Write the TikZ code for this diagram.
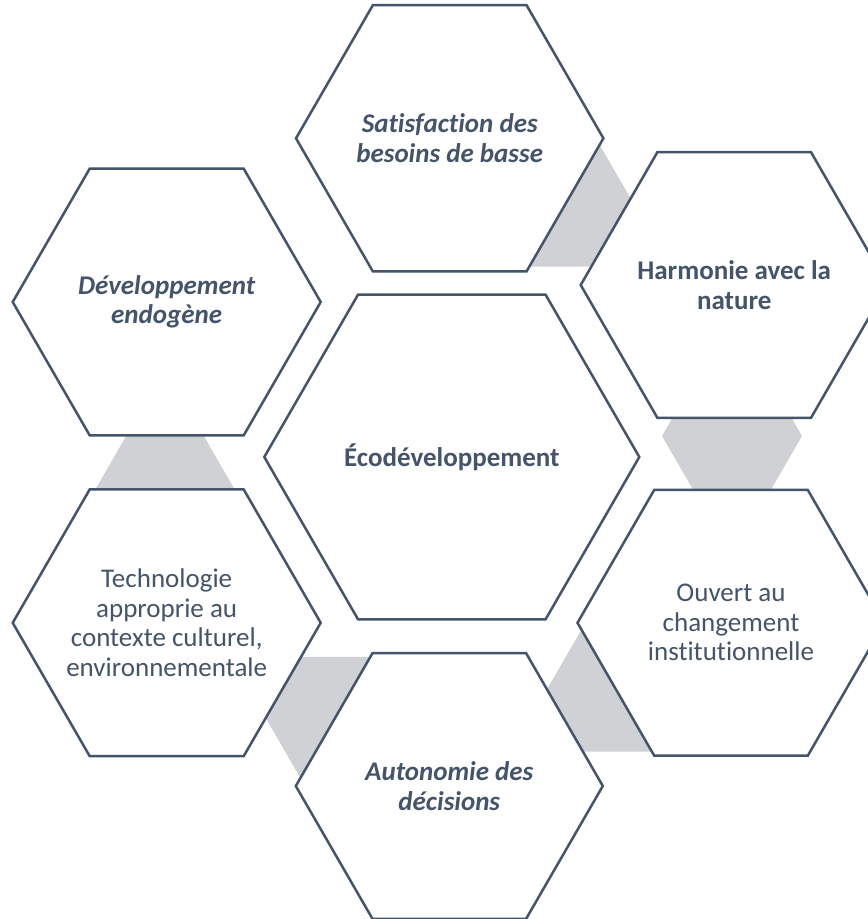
\documentclass[tikz,border=0pt]{standalone}
\usepackage{fontspec}
\setmainfont{Carlito}[Ligatures=NoCommon]
\definecolor{slate}{HTML}{44546A}
\definecolor{band}{RGB}{208,209,213}

% hexagon with flat top and bottom, drawn round a centre
\newcommand\hexpath[3]{(#1,#2) ++(0:#3) -- ++(120:#3) -- ++(180:#3) -- ++(240:#3) -- ++(300:#3) -- ++(0:#3) -- cycle}
\newcommand\hexcell[5]{%
  \draw[cell] \hexpath{#2}{#3}{#4};
  \node[celltext] (#1) at (#2,#3) {#5};}
\newcommand\hexlink[3]{%
  \coordinate (#1) at (#2,#3);
  \fill[band] \hexpath{#2}{#3}{70};}

\begin{document}
\begin{tikzpicture}[x=1pt,y=-1pt,
  cell/.style={draw=slate, line width=2.5pt, line join=miter, fill=white},
  celltext/.style={text=slate, align=center, inner sep=0pt, font=\fontsize{27}{29.5}\selectfont}]
  \useasboundingbox (0,0) rectangle (868,919);
  \clip (0,0) rectangle (868,919);

  % grey links behind the cells
  \hexlink{l1}{565}{206}
  \hexlink{l2}{732}{436}
  \hexlink{l3}{616}{691}
  \hexlink{l4}{335.5}{717.6}
  \hexlink{l5}{165}{490}

  \hexcell{center}{451.8}{457}{187.5}{\bfseries Écodéveloppement}
  \hexcell{top}{449.7}{138.3}{153.7}{\bfseries\itshape Satisfaction des\\\bfseries\itshape besoins de basse}
  \hexcell{upright}{734.2}{285}{153.5}{\bfseries Harmonie avec la\\\bfseries nature}
  \hexcell{downright}{731}{622.8}{153.5}{Ouvert au\\changement\\institutionnelle}
  \hexcell{bottom}{449.3}{786}{153.5}{\bfseries\itshape Autonomie des\\\bfseries\itshape décisions}
  \hexcell{downleft}{166.7}{622.8}{154}{Technologie\\approprie au\\contexte culturel,\\environnementale}
  \hexcell{upleft}{166.7}{302}{154}{\bfseries\itshape Développement\\\bfseries\itshape endogène}
\end{tikzpicture}
\end{document}
